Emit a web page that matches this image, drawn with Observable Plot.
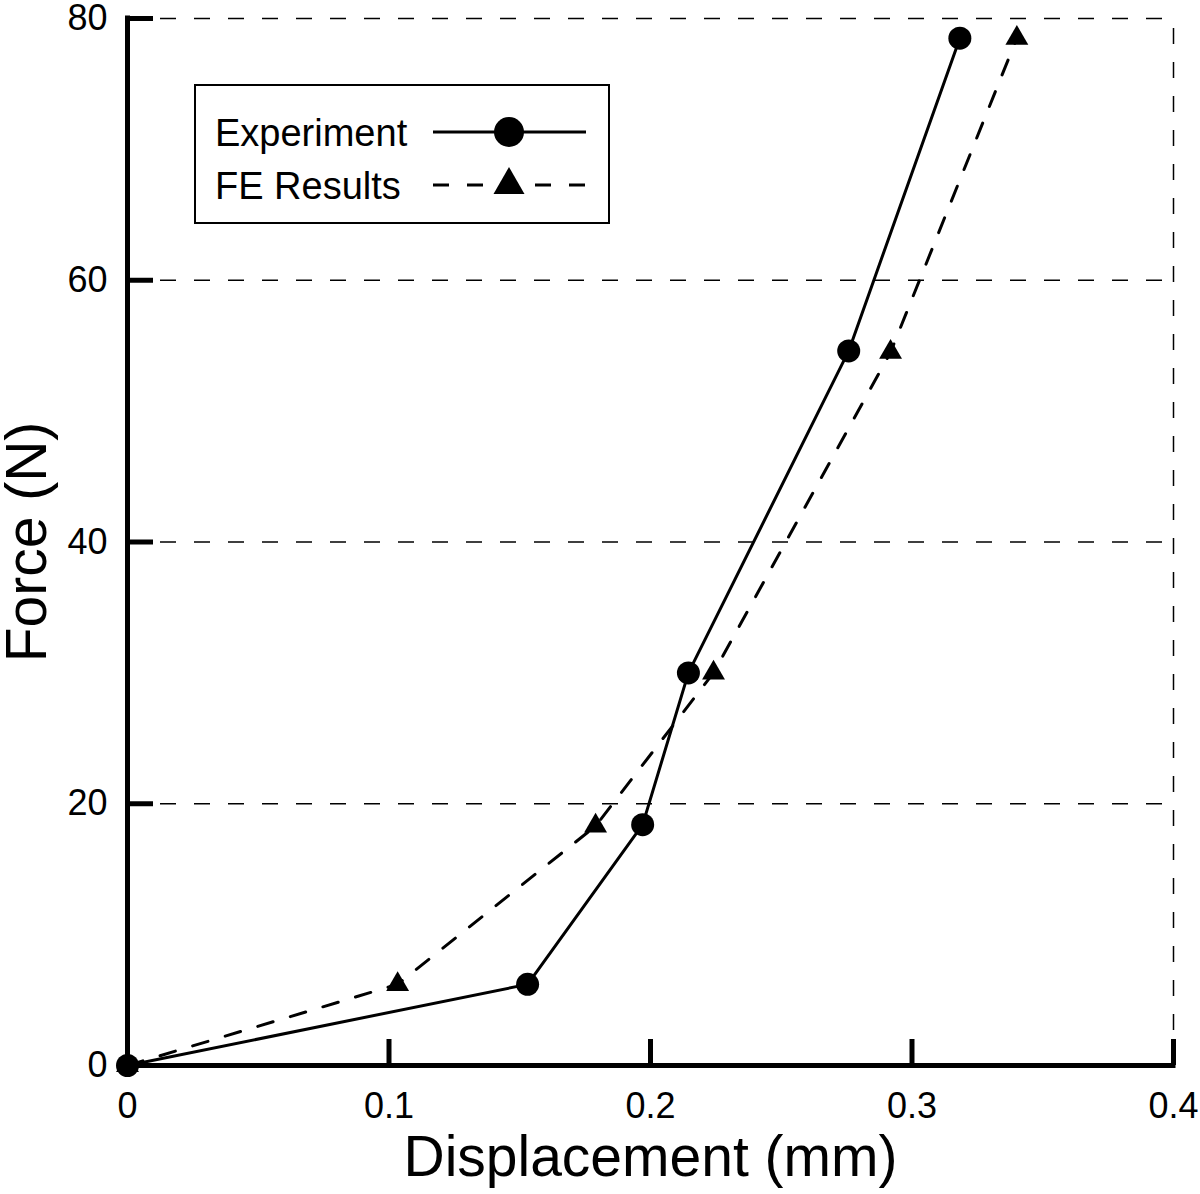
<!DOCTYPE html>
<html><head><meta charset="utf-8">
<script src="https://cdn.jsdelivr.net/npm/d3@7"></script>
<script src="https://cdn.jsdelivr.net/npm/@observablehq/plot@0.6"></script>
<style>body{margin:0;background:#fff} svg{display:block}</style>
</head><body><div id="chart"></div>
<script>
// ---- data ----
const expDisp  = [0, 0.153, 0.197, 0.2145, 0.2758, 0.3183];
const expForce = [0, 6.2, 18.4, 30.0, 54.6, 78.5];
const feDisp   = [0, 0.1033, 0.179, 0.2241, 0.2918, 0.3401];
const feForce  = [0, 6.2, 18.3, 30.0, 54.5, 78.5];
const xTicks = [0, 0.1, 0.2, 0.3, 0.4];
const yTicks = [0, 20, 40, 60, 80];
const yGrid = [20, 40, 60, 80];
const xGrid = [0.4];
const seriesNames = ["Experiment", "FE Results"];
const xLabel = "Displacement (mm)";
const yLabel = "Force (N)";

const exp = expDisp.map((x, i) => ({x, y: expForce[i]}));
const fe = feDisp.map((x, i) => ({x, y: feForce[i]}));

const W = 1200, H = 1194, mL = 127, mR = 27, mT = 18, mB = 129;
const plotW = W - mL - mR, plotH = H - mT - mB;
const tick = 26;
const dash = "16,18";
const font = "'Liberation Sans', Arial, Helvetica, sans-serif";

const chart = Plot.plot({
  width: W, height: H,
  marginLeft: mL, marginRight: mR, marginTop: mT, marginBottom: mB,
  style: {fontFamily: font, background: "#fff", color: "#000", overflow: "visible"},
  x: {domain: [0, 0.4]},
  y: {domain: [0, 80]},
  marks: [
    Plot.ruleY(yGrid, {y: d => d, stroke: "#000", strokeWidth: 1.5, strokeDasharray: dash, insetLeft: 33}),
    Plot.ruleX(xGrid, {x: d => d, stroke: "#000", strokeWidth: 1.5, strokeDasharray: dash, strokeDashoffset: -10, insetBottom: 30}),
    Plot.line(exp, {x: "x", y: "y", stroke: "#000", strokeWidth: 3}),
    Plot.line(fe, {x: "x", y: "y", stroke: "#000", strokeWidth: 3, strokeDasharray: dash}),
    Plot.ruleX([0], {stroke: "#000", strokeWidth: 5, strokeLinecap: "square"}),
    Plot.ruleY([0], {stroke: "#000", strokeWidth: 5, strokeLinecap: "square"}),
    Plot.tickX(xTicks, {x: d => d, stroke: "#000", strokeWidth: 5, insetTop: plotH - tick}),
    Plot.tickY(yTicks, {y: d => d, stroke: "#000", strokeWidth: 5, insetRight: plotW - tick}),
    Plot.dot(exp, {x: "x", y: "y", r: 11.5, fill: "#000", symbol: "circle"}),
    Plot.dot(fe, {x: "x", y: "y", r: 8.5, fill: "#000", symbol: "triangle"}),
    Plot.axisX(xTicks, {tickSize: 0, tickPadding: 27, fontSize: 36, tickFormat: d => String(d), label: null}),
    Plot.axisY(yTicks, {tickSize: 0, tickPadding: 20, fontSize: 36, tickFormat: d => String(d), label: null}),
    Plot.text([xLabel], {text: d => d, frameAnchor: "bottom", lineAnchor: "middle", textAnchor: "middle", dy: 92, fontSize: 57}),
    Plot.text([yLabel], {text: d => d, frameAnchor: "left", lineAnchor: "middle", textAnchor: "middle", dx: -100, rotate: -90, fontSize: 57})
  ]
});
document.getElementById("chart").appendChild(chart);

// ---- legend inside the plot area ----
const svg = d3.select(chart);
const lg = svg.append("g").attr("font-family", font).attr("text-anchor", "start");
lg.append("rect").attr("x", 195).attr("y", 85).attr("width", 414).attr("height", 138)
  .attr("fill", "#fff").attr("stroke", "#000").attr("stroke-width", 2);
seriesNames.forEach((name, i) => {
  const cy = 132 + i * 53;
  lg.append("text").attr("x", 215).attr("y", cy).attr("dy", "0.36em")
    .attr("text-anchor", "start")
    .attr("font-size", 38).attr("fill", "#000").text(name);
  lg.append("line").attr("x1", 433).attr("x2", 586).attr("y1", cy).attr("y2", cy)
    .attr("stroke", "#000").attr("stroke-width", 3)
    .attr("stroke-dasharray", i === 1 ? dash : null);
  const sym = i === 0 ? d3.symbolCircle : d3.symbolTriangle;
  const area = i === 0 ? Math.PI * 15 * 15 : Math.PI * 11.5 * 11.5;
  lg.append("path").attr("transform", `translate(509,${cy})`)
    .attr("d", d3.symbol(sym, area)()).attr("fill", "#000");
});
</script>
</body></html>
